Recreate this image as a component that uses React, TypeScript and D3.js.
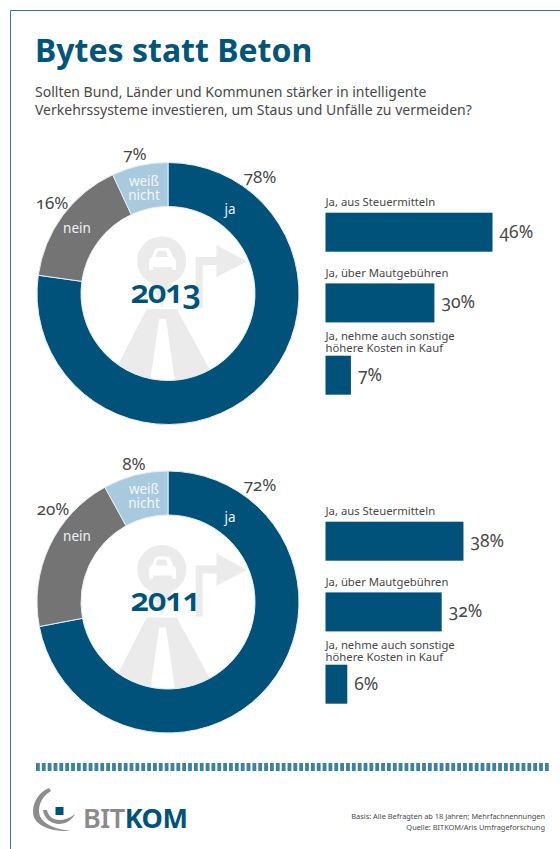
import React from "react";
import * as d3 from "d3";

// Survey answers per year
const years = ["2013", "2011"];
const answerKeys = ["ja", "nein", "weiß nicht"];
const answers2013 = [78, 16, 7];
const answers2011 = [72, 20, 8];

// Breakdown of the "ja" answers per year
const detailLabels = [
  ["Ja, aus Steuermitteln"],
  ["Ja, über Mautgebühren"],
  ["Ja, nehme auch sonstige", "höhere Kosten in Kauf"],
];
const details2013 = [46, 30, 7];
const details2011 = [38, 32, 6];

const title = "Bytes statt Beton";
const subtitle = [
  "Sollten Bund, Länder und Kommunen stärker in intelligente",
  "Verkehrssysteme investieren, um Staus und Unfälle zu vermeiden?",
];
const footnotes = ["Basis: Alle Befragten ab 18 Jahren; Mehrfachnennungen", "Quelle: BITKOM/Aris Umfrageforschung"];

const DARK = "#00527a";
const GREY = "#757475";
const LIGHT = "#a9c9de";
const TEXT = "#484848";
const ICON = "#ebebeb";
const FONT = "'Noto Sans', 'Open Sans', sans-serif";
const OLD: React.CSSProperties = { fontVariantNumeric: "oldstyle-nums", fontFeatureSettings: "'onum' 1" };

const OUTER = 131;
const INNER = 87;
const sliceColors = d3.scaleOrdinal<string, string>().domain(answerKeys).range([DARK, GREY, LIGHT]);
const pie = d3.pie<number>().sort(null);
const arc = d3.arc<d3.PieArcDatum<number>>().innerRadius(INNER).outerRadius(OUTER);
const barX = d3.scaleLinear().domain([0, 46]).range([0, 167]);

// Offsets of the labels from each donut's centre
const insideLabelOffsets = [
  { dx: 62, dy: -80 },
  { dx: -91, dy: -61 },
  { dx: -24, dy: -108 },
];
const outsideOffsets2013 = [
  { dx: 92, dy: -111 },
  { dx: -116, dy: -85 },
  { dx: -33, dy: -134 },
];
const outsideOffsets2011 = [
  { dx: 92, dy: -111 },
  { dx: -115, dy: -87 },
  { dx: -34, dy: -132 },
];

function RoadIcon({ id }: { id: string }) {
  return (
    <g>
      <clipPath id={id}>
        <circle r={INNER} />
      </clipPath>
      <g clipPath={`url(#${id})`} fill={ICON}>
        <path d="M27.7 14.5V-36.5H48.5V-48.5L79 -32 48.5 -16.5V-28.5H34.7V14.5Z" />
        <path d="M-21.3 15.5H8.7L52 95 H-62Z" />
        <path d="M-8.7 25.5H-2L8 95H-19Z" fill="#fff" />
        <circle cx={-6.3} cy={-32.5} r={24.5} />
        <path d="M-17 -12L-6.3 14 4.5 -12Z" />
        <path
          d="M-19 -31.5c0-3 1-4 3-5l2.500-6.500c.7-1.600 2-2.500 4-2.500h8c2 0 3.300.9 4 2.500l2.500 6.500c2 1 3 2 3 5v8h-4v-3h-19v3h-4Z"
          fill="#fff"
        />
        <path d="M-12.500-36.500l2-6h8.400l2 6Z" />
      </g>
    </g>
  );
}

function Donut({
  year,
  values,
  cy,
  outside,
}: {
  year: string;
  values: number[];
  cy: number;
  outside: { dx: number; dy: number }[];
}) {
  const slices = pie(values);
  return (
    <g transform={`translate(168,${cy})`}>
      <RoadIcon id={`clip-${year}`} />
      {slices.map((s, i) => (
        <path key={i} d={arc(s) ?? ""} fill={sliceColors(answerKeys[i])} stroke="#e6eef3" strokeWidth={1} />
      ))}
      <text
        x={-3}
        y={9}
        textAnchor="middle"
        fontSize={33}
        fontWeight={600}
        letterSpacing={-1.5}
        fill={DARK}
        style={OLD}
      >
        {year}
      </text>
      {answerKeys.map((k, i) => {
        const parts = k === "weiß nicht" ? ["weiß", "nicht"] : [k];
        return (
          <text
            key={k}
            x={insideLabelOffsets[i].dx}
            y={insideLabelOffsets[i].dy}
            textAnchor="middle"
            fontSize={13.500}
            fill={i === 2 ? "#f2f7fa" : "#eef3f6"}
          >
            {parts.map((p, j) => (
              <tspan key={p} x={insideLabelOffsets[i].dx} dy={j === 0 ? 0 : 14}>
                {p}
              </tspan>
            ))}
          </text>
        );
      })}
      {values.map((v, i) => (
        <text
          key={i}
          x={outside[i].dx}
          y={outside[i].dy}
          textAnchor="middle"
          fontSize={17}
          fill={TEXT}
          style={OLD}
        >
          {v}%
        </text>
      ))}
    </g>
  );
}

function Bars({ values, top }: { values: number[]; top: number }) {
  const rowOffsets = [0, 70.7, 143];
  const labelGaps = [7, 6.5, 4];
  return (
    <g transform={`translate(325.500,${top})`}>
      {values.map((v, i) => {
        const y = rowOffsets[i];
        const labels = detailLabels[i];
        return (
          <g key={i} transform={`translate(0,${y})`}>
            {labels.map((l, j) => (
              <text
                key={l}
                y={-labelGaps[i] - (labels.length - 1 - j) * 12}
                fontSize={11.300}
                fill={TEXT}
              >
                {l}
              </text>
            ))}
            <rect width={barX(v)} height={39} fill={DARK} />
            <text x={barX(v) + 7} y={25} fontSize={17.500} fill={TEXT} style={OLD}>
              {v}%
            </text>
          </g>
        );
      })}
    </g>
  );
}

function Logo() {
  return (
    <g>
      <path d="M49 788C39 792 33 802 33 812C33 824 48 832 71 831C54 829 39 823 39 811C39 802 44 795 51 791Z" fill="#8d8d8d" />
      <path d="M43 810C44 819 52 824 59 824C66 824 72 820 75 814C70 818 65 820 59 820C53 820 48 816 47 810Z" fill="#8d8d8d" />
      <rect x={55.5} y={807} width={8} height={8} fill={DARK} />
      <text x={83} y={828} fontSize={27} fontWeight={600} fill="#8a8a8a" letterSpacing={-0.5}>
        BIT
        <tspan fill={DARK} fontWeight={700}>
          KOM
        </tspan>
      </text>
    </g>
  );
}

export default function App() {
  const dashes = d3.range(36, 547, 5.85);
  return (
    <svg
      width={560}
      height={849}
      viewBox="0 0 560 849"
      fontFamily={FONT}
      style={{ position: "absolute", left: 0, top: 0, background: "#fff" }}
    >
      <path d="M560 10.500H10.500V849" fill="none" stroke="#2f7a99" strokeWidth={1} />
      <text x={35} y={62} fontSize={32} fontWeight={700} fill="#00557a">
        {title}
      </text>
      {subtitle.map((s, i) => (
        <text key={s} x={35} y={97 + i * 18} fontSize={14} fill={TEXT}>
          {s}
        </text>
      ))}
      <Donut year={years[0]} values={answers2013} cy={293.5} outside={outsideOffsets2013} />
      <Bars values={details2013} top={212.7} />
      <Donut year={years[1]} values={answers2011} cy={602} outside={outsideOffsets2011} />
      <Bars values={details2011} top={521.7} />
      {dashes.map((x) => (
        <rect key={x} x={x} y={763} width={3.800} height={8} fill="#3a82a2" />
      ))}
      <Logo />
      {footnotes.map((f, i) => (
        <text key={f} x={545} y={819 + i * 11} textAnchor="end" fontSize={7.400} fill={TEXT}>
          {f}
        </text>
      ))}
    </svg>
  );
}
